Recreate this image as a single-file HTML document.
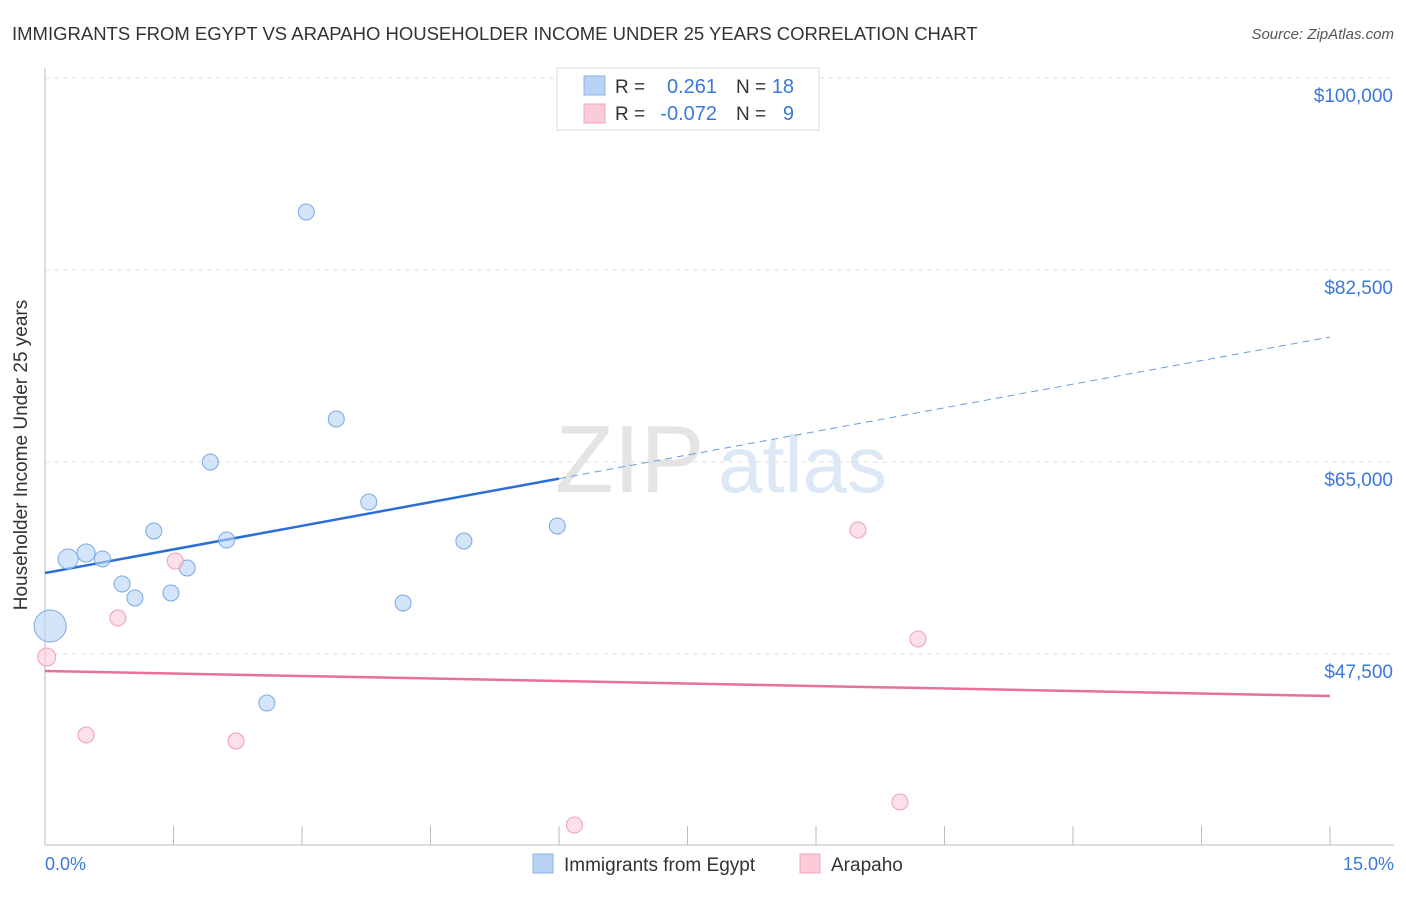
<!DOCTYPE html>
<html><head><meta charset="utf-8"><style>
body{margin:0;background:#fff;font-family:"Liberation Sans",sans-serif;}
svg text{font-family:"Liberation Sans",sans-serif;}
</style></head><body>
<svg id="chart" width="1406" height="892" xmlns="http://www.w3.org/2000/svg">
<text x="12" y="40" font-size="18.5" fill="#333">IMMIGRANTS FROM EGYPT VS ARAPAHO HOUSEHOLDER INCOME UNDER 25 YEARS CORRELATION CHART</text>
<text x="1394" y="39" font-size="15" fill="#555" text-anchor="end" font-style="italic">Source: ZipAtlas.com</text>
<text x="555" y="492" font-size="96" fill="#e4e4e4" font-family="Liberation Serif">ZIP</text>
<text x="718" y="492" font-size="80" fill="#dde8f6">atlas</text>
<g id="grid"></g><g id="axes"></g><g id="lines"></g><g id="points"></g>
<text x="27" y="455" font-size="19" fill="#333" text-anchor="middle" transform="rotate(-90 27 455)">Householder Income Under 25 years</text>
<text x="45" y="870" font-size="18" fill="#3b78d8">0.0%</text>
<text x="1394" y="870" font-size="18" fill="#3b78d8" text-anchor="end">15.0%</text>
<g>
<rect x="557" y="68" width="262" height="62" fill="#fff" stroke="#ddd"/>
<rect x="584" y="76" width="21" height="19" fill="#b8d3f6" stroke="#8ab3ea"/>
<rect x="584" y="104" width="21" height="19" fill="#fccbd8" stroke="#f2a7bd"/>
<text x="615" y="93" font-size="19" fill="#333">R =</text>
<text x="717" y="93" font-size="20" fill="#3b78d8" text-anchor="end">0.261</text>
<text x="736" y="93" font-size="19" fill="#333">N =</text>
<text x="794" y="93" font-size="20" fill="#3b78d8" text-anchor="end">18</text>
<text x="615" y="120" font-size="19" fill="#333">R =</text>
<text x="717" y="120" font-size="20" fill="#3b78d8" text-anchor="end">-0.072</text>
<text x="736" y="120" font-size="19" fill="#333">N =</text>
<text x="794" y="120" font-size="20" fill="#3b78d8" text-anchor="end">9</text>
</g>
<g>
<rect x="533" y="854" width="20" height="19" fill="#b8d3f6" stroke="#8ab3ea"/>
<text x="564" y="871" font-size="19" fill="#333">Immigrants from Egypt</text>
<rect x="800" y="854" width="20" height="19" fill="#fccbd8" stroke="#f2a7bd"/>
<text x="831" y="871" font-size="19" fill="#333">Arapaho</text>
</g>
</svg>
<script>
const yTicks=[47500,65000,82500,100000];
const yTickLabels=["$47,500","$65,000","$82,500","$100,000"];
const xTicks=[0,1.5,3,4.5,6,7.5,9,10.5,12,13.5,15];
const egyptX=[0.06,0.27,0.48,0.67,0.90,1.05,1.27,1.47,1.66,1.93,2.12,2.59,3.05,3.40,3.78,4.18,4.89,5.98];
const egyptY=[50052,56160,56706,56160,53880,52604,58711,53060,55339,65000,57891,43034,87786,68919,61354,52148,57799,59167];
const egyptR=[16,10,9,8,8,8,8,8,8,8,8,8,8,8,8,8,8,8];
const arapahoX=[0.02,0.48,0.85,1.52,2.23,6.18,9.49,9.98,10.19];
const arapahoY=[47227,40117,50781,55977,39570,31914,58802,34010,48867];
const egyptTrend=[54883,76393];
const arapahoTrend=[45950,43672];
const egyptSolidEnd=6.0;
const NS="http://www.w3.org/2000/svg";
const xs=v=>45+v/15*1285;
const ys=v=>654-(v-47500)/17500*192;
function mk(tag,attrs,parent){const e=document.createElementNS(NS,tag);for(const k in attrs)e.setAttribute(k,attrs[k]);document.getElementById(parent).appendChild(e);return e;}
yTicks.forEach((t,i)=>{
 const g=mk('line',{x1:45,x2:1394,y1:ys(t),y2:ys(t),stroke:'#e2e2e2','stroke-dasharray':'5,4'},'grid');
 
 
 const tx=mk('text',{x:1393,y:ys(t)+24,'font-size':19,fill:'#3b78d8','text-anchor':'end'},'grid');
 tx.textContent=yTickLabels[i];
 
 
});
const ax=mk('line',{x1:45,x2:45,y1:68,y2:845,stroke:'#bbb'},'axes');


const bx=mk('line',{x1:45,x2:1394,y1:845,y2:845,stroke:'#bbb'},'axes');


xTicks.forEach(t=>{
 const l=mk('line',{x1:xs(t),x2:xs(t),y1:826,y2:845,stroke:'#bbb'},'axes');
 
 
});
const ey=v=>egyptTrend[0]+(egyptTrend[1]-egyptTrend[0])*v/15;
let l1=mk('line',{x1:xs(0),y1:ys(ey(0)),x2:xs(egyptSolidEnd),y2:ys(ey(egyptSolidEnd)),stroke:'#2b6fd6','stroke-width':2.5},'lines');


let l2=mk('line',{x1:xs(egyptSolidEnd),y1:ys(ey(egyptSolidEnd)),x2:xs(15),y2:ys(ey(15)),stroke:'#6a9be0','stroke-width':1,'stroke-dasharray':'7,5'},'lines');


let l3=mk('line',{x1:xs(0),y1:ys(arapahoTrend[0]),x2:xs(15),y2:ys(arapahoTrend[1]),stroke:'#e8709a','stroke-width':2.5},'lines');


egyptX.forEach((x,i)=>{
 const c=mk('circle',{cx:xs(x),cy:ys(egyptY[i]),r:egyptR[i],fill:'rgba(184,211,246,0.6)',stroke:'#7aa8e6','stroke-width':1},'points');
 
 
});
arapahoX.forEach((x,i)=>{
 const c=mk('circle',{cx:xs(x),cy:ys(arapahoY[i]),r:i==0?9:8,fill:'rgba(252,203,216,0.6)',stroke:'#eea0b8','stroke-width':1},'points');
 
 
});
</script>
</body></html>
